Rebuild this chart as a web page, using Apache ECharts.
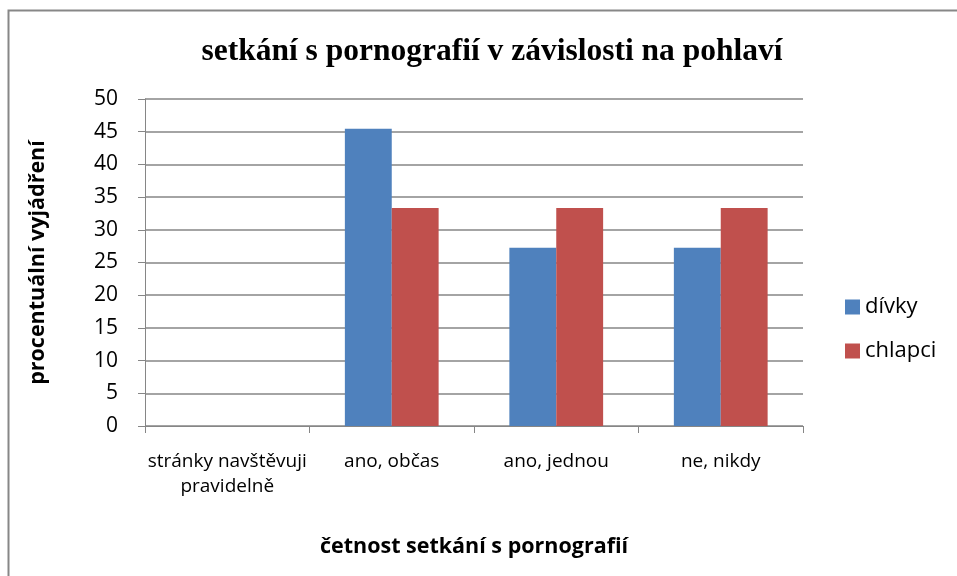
<!DOCTYPE html>
<html>
<head>
<meta charset="utf-8">
<script src="https://cdn.jsdelivr.net/npm/echarts@6/dist/echarts.min.js"></script>
<style>
  html, body { margin: 0; padding: 0; background: #fff; }
  #chart { width: 957px; height: 576px; }
</style>
</head>
<body>
<div id="chart"></div>
<script>
// data
const categories = ['stránky navštěvuji\npravidelně', 'ano, občas', 'ano, jednou', 'ne, nikdy']
const divky = [0, 45.45, 27.27, 27.27]
const chlapci = [0, 33.33, 33.33, 33.33]
const yTicks = [0, 50, 5]   // min, max, interval

const chart = echarts.init(document.getElementById('chart'))
const sans = 'Open Sans, Liberation Sans, sans-serif'

const option = {
  backgroundColor: '#fff',
  animation: false,
  title: {
    text: 'setkání s pornografií v závislosti na pohlaví',
    left: 487,
    textAlign: 'center',
    top: 31,
    textStyle: { fontFamily: 'Liberation Serif, serif', fontWeight: 'bold', fontSize: 31.5, color: '#000' }
  },
  graphic: [
    { type: 'rect', shape: { x: 8.5, y: 10.5, width: 960, height: 580 }, style: { fill: 'none', stroke: '#878787', lineWidth: 2 }, silent: true },
    { type: 'text', left: 0, top: -19, style: { text: 'Graf 13.2', font: '20px Liberation Serif, serif', fill: '#000' } }
  ],
  legend: {
    orient: 'vertical',
    left: 840,
    top: 291,
    itemGap: 22,
    itemWidth: 15,
    itemHeight: 15,
    icon: 'rect',
    textStyle: { fontFamily: sans, fontSize: 22, color: '#000', padding: [0, 0, 0, 0] },
    data: ['dívky', 'chlapci']
  },
  grid: { left: 145, right: 154, top: 99, bottom: 150 },
  xAxis: {
    type: 'category',
    data: categories,
    name: 'četnost setkání s pornografií',
    nameLocation: 'middle',
    nameGap: 110,
    nameTextStyle: { fontFamily: sans, fontWeight: 'bold', fontSize: 21.5, color: '#000' },
    axisLine: { lineStyle: { color: '#868686', width: 1 } },
    axisTick: { show: true, length: 7, lineStyle: { color: '#868686' } },
    axisLabel: { interval: 0, fontFamily: sans, fontSize: 19, color: '#000', margin: 23, lineHeight: 25 }
  },
  yAxis: {
    type: 'value',
    min: yTicks[0],
    max: yTicks[1],
    interval: yTicks[2],
    name: 'procentuální vyjádření',
    nameLocation: 'middle',
    nameGap: 96,
    nameRotate: 90,
    nameTextStyle: { fontFamily: sans, fontWeight: 'bold', fontSize: 21.5, color: '#000' },
    axisLine: { show: true, lineStyle: { color: '#868686' } },
    axisTick: { show: true, length: 7, lineStyle: { color: '#868686' } },
    axisLabel: { fontFamily: sans, fontSize: 21, color: '#000', margin: 27 },
    splitLine: { lineStyle: { color: '#868686', width: 1.5 } }
  },
  series: [
    { name: 'dívky', type: 'bar', data: divky, barGap: '0%', barCategoryGap: '43%', itemStyle: { color: '#4F81BD' } },
    { name: 'chlapci', type: 'bar', data: chlapci, barGap: '0%', barCategoryGap: '43%', itemStyle: { color: '#C0504D' } }
  ]
}

chart.setOption(option)
</script>
</body>
</html>
